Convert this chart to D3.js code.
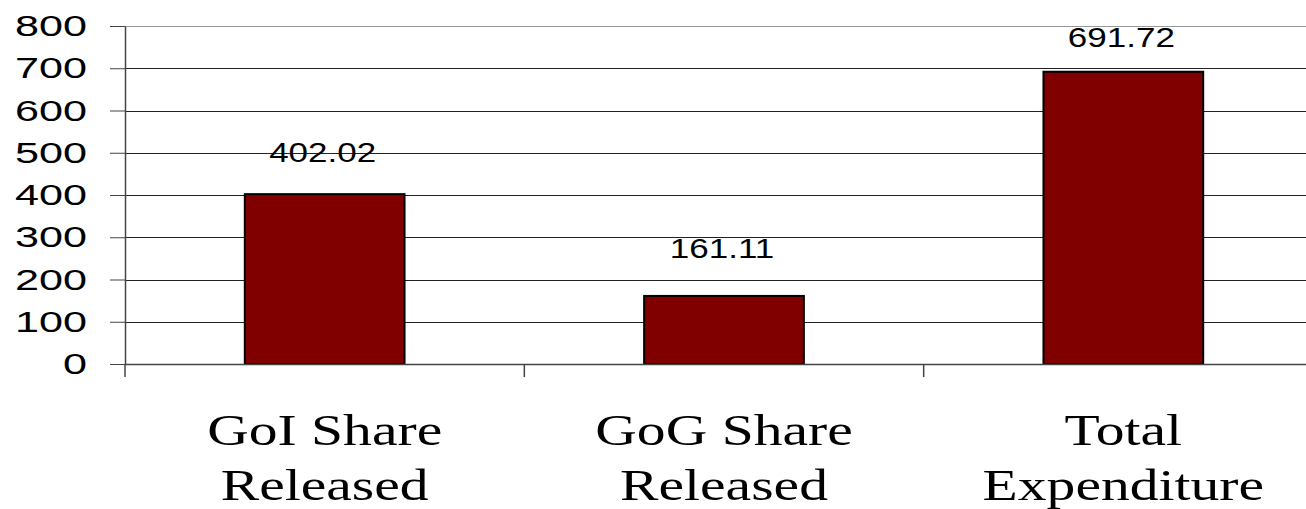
<!DOCTYPE html>
<html lang="en">
<head>
  <meta charset="UTF-8">
  <title>Share Released and Expenditure</title>
  <script src="https://d3js.org/d3.v7.min.js"></script>
  <style>
    body { margin: 0; padding: 0; background: #fff; }
    svg { display: block; }
  </style>
</head>
<body>
  <svg id="chart"></svg>
  <script>
    const categories = [["GoI Share", "Released"], ["GoG Share", "Released"], ["Total", "Expenditure"]];
    const values = [402.02, 161.11, 691.72];
    const yTicks = [0, 100, 200, 300, 400, 500, 600, 700, 800];

    const width = 1306;
    const height = 509;
    const plotLeft = 125, plotTop = 26, plotBottom = 364;
    const plotRight = 1323; // the plot runs a bit past the image edge

    // the source picture is stretched sideways, so text is widened too
    const stretchTick = 1.44, stretchValue = 1.25, stretchCat = 1.28;

    const svg = d3.select("#chart")
      .attr("width", width)
      .attr("height", height);

    const x = d3.scaleBand()
      .domain(categories.map((d, i) => i))
      .range([plotLeft, plotRight])
      .paddingInner(0.6)
      .paddingOuter(0.3);

    const y = d3.scaleLinear()
      .domain([0, 800])
      .range([plotBottom, plotTop]);

    // gridlines
    svg.append("g")
      .selectAll("line")
      .data(yTicks.filter(d => d > 0))
      .join("line")
      .attr("x1", plotLeft)
      .attr("x2", plotRight)
      .attr("y1", d => Math.round(y(d)) + 0.5)
      .attr("y2", d => Math.round(y(d)) + 0.5)
      .attr("stroke", d => d === 800 ? "#999" : "#222")
      .attr("stroke-width", 1);

    // y axis
    const yAxis = svg.append("g")
      .attr("transform", `translate(${plotLeft},0)`)
      .call(d3.axisLeft(y).tickValues(yTicks).tickSize(15).tickPadding(22).tickSizeOuter(0));
    yAxis.select(".domain").attr("stroke", "#444").attr("stroke-width", 1.5);
    yAxis.selectAll(".tick line").attr("stroke", "#444");
    yAxis.selectAll("text")
      .attr("x", 0)
      .attr("transform", `translate(-38,0) scale(${stretchTick},1)`)
      .attr("font-family", "Liberation Sans, Arial, sans-serif")
      .attr("font-size", 30)
      .attr("fill", "#000");

    // bars
    svg.append("g")
      .selectAll("rect")
      .data(values)
      .join("rect")
      .attr("x", (d, i) => x(i))
      .attr("y", d => y(d))
      .attr("width", x.bandwidth())
      .attr("height", d => y(0) - y(d))
      .attr("fill", "#800000")
      .attr("stroke", "#000")
      .attr("stroke-width", 2);

    // x axis baseline and category ticks
    const xTicks = d3.range(categories.length + 1).map(i => plotLeft + i * (plotRight - plotLeft) / categories.length);
    svg.append("line")
      .attr("x1", plotLeft).attr("x2", plotRight)
      .attr("y1", plotBottom + 0.5).attr("y2", plotBottom + 0.5)
      .attr("stroke", "#444").attr("stroke-width", 1.5);
    svg.append("g")
      .selectAll("line")
      .data(xTicks)
      .join("line")
      .attr("x1", d => d).attr("x2", d => d)
      .attr("y1", plotBottom).attr("y2", plotBottom + 13)
      .attr("stroke", "#444").attr("stroke-width", 1.5);

    // value labels: shorter bars carry their label a little higher
    const labelGap = d => 42 - 0.058 * (y(0) - y(d));
    svg.append("g")
      .selectAll("text")
      .data(values)
      .join("text")
      .attr("transform", (d, i) => `translate(${x(i) + x.bandwidth() / 2 - 2},${y(d) - labelGap(d)}) scale(${stretchValue},1)`)
      .attr("text-anchor", "middle")
      .attr("font-family", "Liberation Sans, Arial, sans-serif")
      .attr("font-size", 28)
      .attr("fill", "#000")
      .text(d => d.toFixed(2));

    // category labels
    const catLabels = svg.append("g")
      .selectAll("text")
      .data(categories)
      .join("text")
      .attr("transform", (d, i) => `translate(${x(i) + x.bandwidth() / 2},445) scale(${stretchCat},1)`)
      .attr("text-anchor", "middle")
      .attr("font-family", "Liberation Serif, Times New Roman, serif")
      .attr("font-size", 45)
      .attr("fill", "#000");
    catLabels.selectAll("tspan")
      .data(d => d)
      .join("tspan")
      .attr("x", 0)
      .attr("dy", (d, i) => i === 0 ? 0 : 55)
      .text(d => d);
  </script>
</body>
</html>
